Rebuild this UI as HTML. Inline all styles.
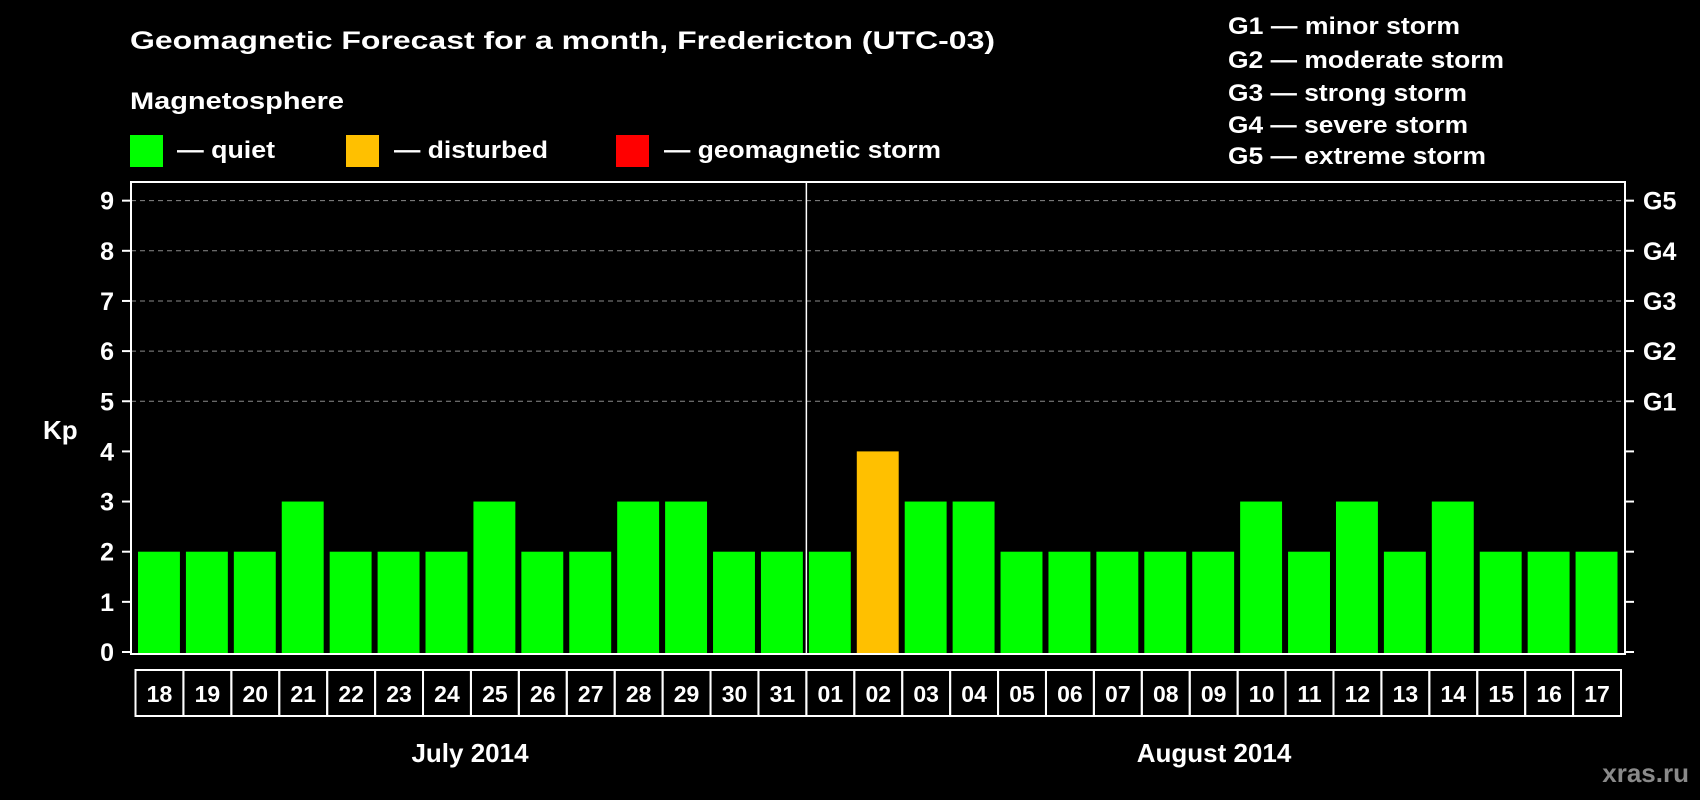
<!DOCTYPE html>
<html><head><meta charset="utf-8"><style>
html,body{margin:0;padding:0;background:#000;}
svg{display:block;font-family:"Liberation Sans",Arial,sans-serif;font-weight:bold;}
</style></head><body>
<svg id="chart" width="1700" height="800" viewBox="0 0 1700 800" xmlns="http://www.w3.org/2000/svg">
<rect width="1700" height="800" fill="#000"/>
<text x="130" y="49" fill="#fff" font-size="25" textLength="865" lengthAdjust="spacingAndGlyphs">Geomagnetic Forecast for a month, Fredericton (UTC-03)</text>
<text x="130" y="109" fill="#fff" font-size="24" textLength="214" lengthAdjust="spacingAndGlyphs">Magnetosphere</text>
<g>
<rect x="130" y="135" width="33" height="32" fill="#00ff00"/>
<text x="177" y="158" fill="#fff" font-size="24" textLength="98" lengthAdjust="spacingAndGlyphs">— quiet</text>
<rect x="346" y="135" width="33" height="32" fill="#ffc000"/>
<text x="394" y="158" fill="#fff" font-size="24" textLength="154" lengthAdjust="spacingAndGlyphs">— disturbed</text>
<rect x="616" y="135" width="33" height="32" fill="#ff0000"/>
<text x="664" y="158" fill="#fff" font-size="24" textLength="277" lengthAdjust="spacingAndGlyphs">— geomagnetic storm</text>
</g>
<g fill="#fff" font-size="24">
<text x="1228" y="34" textLength="232" lengthAdjust="spacingAndGlyphs">G1 — minor storm</text>
<text x="1228" y="68" textLength="276" lengthAdjust="spacingAndGlyphs">G2 — moderate storm</text>
<text x="1228" y="101" textLength="239" lengthAdjust="spacingAndGlyphs">G3 — strong storm</text>
<text x="1228" y="133" textLength="240" lengthAdjust="spacingAndGlyphs">G4 — severe storm</text>
<text x="1228" y="164" textLength="258" lengthAdjust="spacingAndGlyphs">G5 — extreme storm</text>
</g>
<text x="43" y="439" fill="#fff" font-size="26">Kp</text>
<g id="plot"></g>
<text x="470" y="762" fill="#fff" font-size="26" text-anchor="middle">July 2014</text>
<text x="1214" y="762" fill="#fff" font-size="26" text-anchor="middle">August 2014</text>
<text x="1689" y="782" fill="#8a8a8a" font-size="26" text-anchor="end">xras.ru</text>
</svg>
<script>
const days = ["18","19","20","21","22","23","24","25","26","27","28","29","30","31","01","02","03","04","05","06","07","08","09","10","11","12","13","14","15","16","17"];
const kpValues = [2,2,2,3,2,2,2,3,2,2,3,3,2,2,2,4,3,3,2,2,2,2,2,3,2,3,2,3,2,2,2];
const yTicks = [0,1,2,3,4,5,6,7,8,9];
const gLabels = ["G1","G2","G3","G4","G5"];
const monthSplitIndex = 14;

const NS = "http://www.w3.org/2000/svg";
const plot = document.getElementById("plot");
const L = 131, R = 1625, T = 182, B = 654;
const cellX0 = 135.5, cellW = (1621 - 135.5) / days.length;
const y = v => 652 - v * 50.15;
const xCell = i => cellX0 + i * cellW;
function mk(tag, attrs){const e=document.createElementNS(NS,tag);for(const k in attrs)e.setAttribute(k,attrs[k]);plot.appendChild(e);return e;}

// grid lines
yTicks.forEach(v=>{
  if(v>=5){
    const g=mk("line",{x1:L,x2:R,y1:y(v),y2:y(v),stroke:"#8a8a8a","stroke-width":1,"stroke-dasharray":"5,4"});
    
    
  }
  const t1=mk("line",{x1:L-9,x2:L,y1:y(v),y2:y(v),stroke:"#fff","stroke-width":2});
  
  
  const t2=mk("line",{x1:R,x2:R+9,y1:y(v),y2:y(v),stroke:"#fff","stroke-width":2});
  
  
  const lbl=mk("text",{x:114,y:y(v)+9,fill:"#fff","font-size":25,"text-anchor":"end"});
  lbl.textContent=v;
  
  
});
gLabels.forEach((g,i)=>{
  const t=mk("text",{x:1643,y:y(5+i)+9,fill:"#fff","font-size":25});
  t.textContent=g;
  
  
});

// bars
kpValues.forEach((v,i)=>{
  const color = v>=5 ? "#ff0000" : (v>=4 ? "#ffc000" : "#00ff00");
  const b=mk("rect",{x:xCell(i)+2.5,y:y(v),width:cellW-6,height:B-y(v),fill:color});
  
  
});

// frame
const fr=mk("rect",{x:L,y:T,width:R-L,height:B-T,fill:"none",stroke:"#fff","stroke-width":2});


const sep=mk("line",{x1:xCell(monthSplitIndex),x2:xCell(monthSplitIndex),y1:T,y2:B,stroke:"#fff","stroke-width":1.5});



// date cells
days.forEach((d,i)=>{
  const c=mk("rect",{x:xCell(i),y:670,width:cellW,height:46,fill:"none",stroke:"#fff","stroke-width":2});
  
  
  const t=mk("text",{x:xCell(i)+cellW/2,y:702,fill:"#fff","font-size":23,"text-anchor":"middle"});
  t.textContent=d;
  
  
});
</script>
</body></html>
